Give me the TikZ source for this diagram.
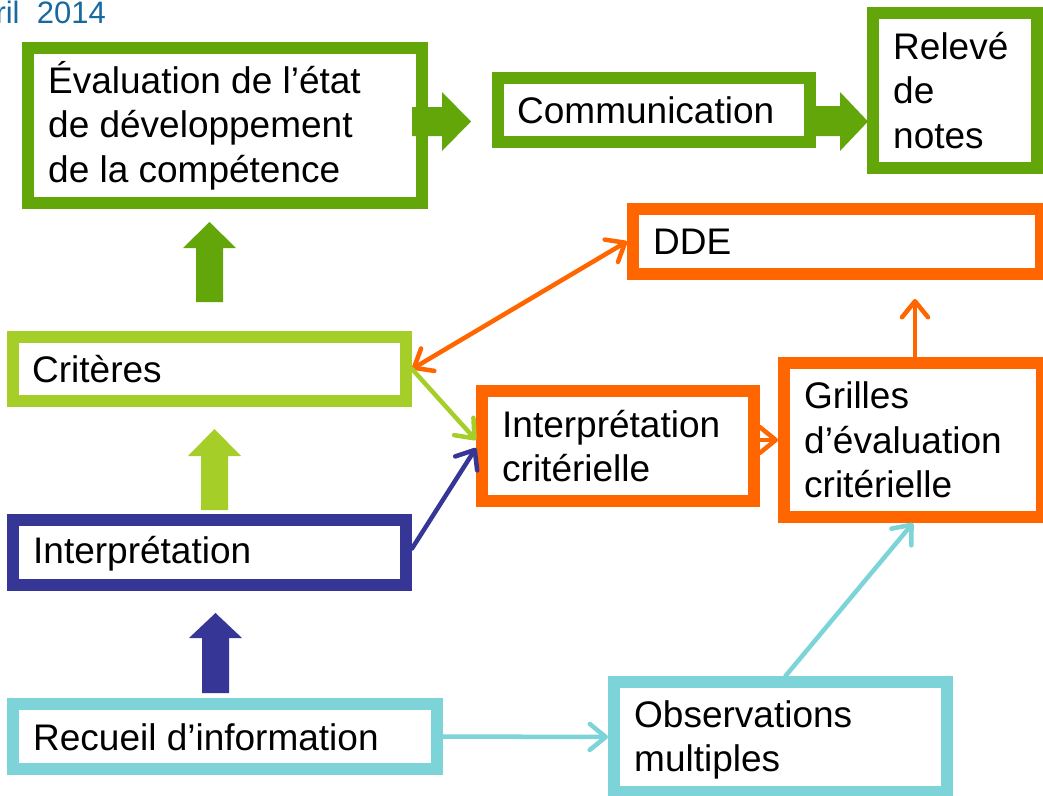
\documentclass[tikz,border=0pt]{standalone}
\usepackage{fontspec}
\setmainfont{Liberation Sans}
\usetikzlibrary{arrows.meta,calc}
\definecolor{dgreen}{RGB}{99,166,10}
\definecolor{lgreen}{RGB}{166,206,40}
\definecolor{orng}{RGB}{255,102,0}
\definecolor{dblue}{RGB}{54,54,150}
\definecolor{cobs}{RGB}{124,212,217}
\definecolor{dateblue}{RGB}{25,105,160}
\tikzset{
  box/.style={draw=#1, fill=white, line width=12pt, inner sep=0pt, outer sep=6pt},
  txt/.style={anchor=west, align=left, inner sep=0pt, font=\fontsize{37}{44.5}\selectfont},
  conn/.style={draw=#1, line width=4.5pt, line cap=round},
  barb/.tip={Straight Barb[length=16pt,width=26pt,line cap=round,line join=round]},
}
\begin{document}
\begin{tikzpicture}[x=1pt,y=-1pt]
\fill[white] (0,0) rectangle (1043,795);
\useasboundingbox (0,0) rectangle (1043,795);

\node[anchor=base east, text=dateblue, font=\fontsize{31}{36}\selectfont, inner sep=0pt] (date) at (106,23) {ril~~2014};

\node[box=dgreen, minimum width=394pt, minimum height=155pt] (eval) at (225,125.5) {};
\node[txt] (evalt) at (48,125.5) {Évaluation de l’état\\de développement\\de la compétence};

\node[box=dgreen, minimum width=312pt, minimum height=64pt] (comm) at (654,110) {};
\node[txt] (commt) at (517,110) {Communication};

\node[box=dgreen, minimum width=164pt, minimum height=155pt] (relv) at (955,90.5) {};
\node[txt] (relvt) at (893,90.5) {Relevé\\de\\notes};

\node[box=orng, minimum width=408pt, minimum height=65pt] (dde) at (837,241.5) {};
\node[txt] (ddet) at (653,241.5) {DDE};

\node[box=lgreen, minimum width=393pt, minimum height=64pt] (crit) at (209.5,369) {};
\node[txt] (critt) at (32,369) {Critères};

\node[box=orng, minimum width=272pt, minimum height=110pt] (icrit) at (618,446) {};
\node[txt] (icritt) at (502,446) {Interprétation\\critérielle};

\node[box=orng, minimum width=258pt, minimum height=154pt] (grill) at (913,440) {};
\node[txt] (grillt) at (804,440) {Grilles\\d’évaluation\\critérielle};

\node[box=dblue, minimum width=393pt, minimum height=65pt] (interp) at (209.5,552.5) {};
\node[txt] (interpt) at (33,554) {Interprétation};

\node[box=cobs, minimum width=424pt, minimum height=65pt] (recu) at (225,736.5) {};
\node[txt] (recut) at (33,737.5) {Recueil d’information};

\node[box=cobs, minimum width=333pt, minimum height=110pt] (obs) at (780.5,737) {};
\node[txt] (obst) at (634,740) {Observations\\multiples};

% block arrows
\fill[dgreen] (412,107) -- (442,107) -- (442,92) -- (471,121.5) -- (442,151) -- (442,136) -- (412,136) -- cycle;
\fill[dgreen] (816,106) -- (840,106) -- (840,92) -- (868,121.5) -- (840,151) -- (840,136) -- (816,136) -- cycle;
\fill[dgreen] (196,302) -- (196,248) -- (183,248) -- (209.5,222) -- (236,248) -- (223,248) -- (223,302) -- cycle;
\fill[lgreen] (201,510) -- (201,456) -- (188,456) -- (214.5,429) -- (241,456) -- (228,456) -- (228,510) -- cycle;
\fill[dblue] (202,693) -- (202,638) -- (189,638) -- (215.5,613) -- (242,638) -- (229,638) -- (229,693) -- cycle;

% thin connectors
\draw[conn=orng, barb-barb] (crit.east) -- (dde.west);
\draw[conn=lgreen, -barb] (crit.east) -- ($(icrit.west)+(0,-6)$);
\draw[conn=dblue, -barb] ($(interp.east)+(0,-4)$) -- ($(icrit.west)+(0,2)$);
\draw[conn=orng, -barb] (icrit.east |- grill.west) -- (grill.west);
\coordinate (ddeup) at (915,299);
\draw[conn=orng, -barb] (grill.north -| ddeup) -- (ddeup);
\draw[conn=cobs, -barb] (recu.east) -- (obs.west);
\draw[conn=cobs, -barb] ($(obs.north)+(5,0)$) -- (grill.south);
\end{tikzpicture}
\end{document}
